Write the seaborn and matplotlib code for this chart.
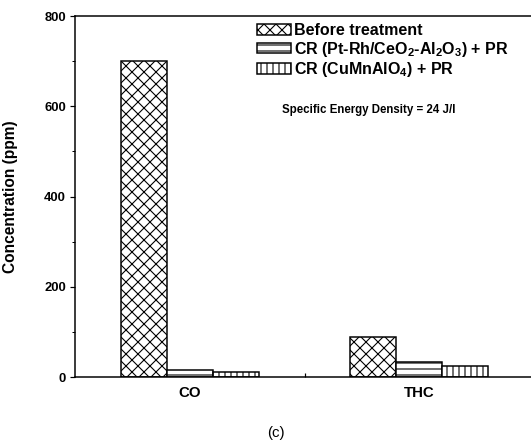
import numpy as np
import pandas as pd
import matplotlib
matplotlib.use("Agg")
import matplotlib.pyplot as plt
import seaborn as sns

categories = ["CO", "THC"]
series_names = ["Before treatment",
                r"CR (Pt-Rh/CeO$_2$-Al$_2$O$_3$) + PR",
                r"CR (CuMnAlO$_4$) + PR"]
before_vals = [700, 88]
pt_vals = [16, 33]
cumn_vals = [11, 24]
y_ticks = [0, 200, 400, 600, 800]

sns.set_theme(style="ticks")
plt.rcParams["font.family"] = ["Liberation Sans", "DejaVu Sans"]
plt.rcParams["font.weight"] = "bold"
plt.rcParams["text.color"] = "black"
plt.rcParams["axes.labelcolor"] = "black"
plt.rcParams["xtick.color"] = "black"
plt.rcParams["ytick.color"] = "black"
plt.rcParams["axes.edgecolor"] = "black"
plt.rcParams["mathtext.fontset"] = "custom"
plt.rcParams["mathtext.rm"] = "Liberation Sans:bold"
plt.rcParams["mathtext.it"] = "Liberation Sans:bold"
plt.rcParams["mathtext.bf"] = "Liberation Sans:bold"
plt.rcParams["mathtext.default"] = "rm"
plt.rcParams["hatch.linewidth"] = 1.1
plt.rcParams["hatch.color"] = "black"

df = pd.DataFrame({
    "cat": categories * 3,
    "series": [series_names[0]] * 2 + [series_names[1]] * 2 + [series_names[2]] * 2,
    "val": before_vals + pt_vals + cumn_vals,
})

DPI = 72
fig = plt.figure(figsize=(531 / DPI, 445 / DPI), dpi=DPI)
ax = fig.add_axes([75 / 531, (445 - 377) / 445, 459 / 531, (377 - 16) / 445])

sns.barplot(data=df, x="cat", y="val", hue="series", order=categories,
            hue_order=series_names, width=0.6, gap=0, legend=False,
            palette=["white"] * 3, edgecolor="black",
            linewidth=1.5, ax=ax, err_kws={"linewidth": 0})

hatches = ["xx", "--", "||"]
for cont, h in zip(ax.containers, hatches):
    for p in cont.patches:
        p.set_hatch(h)
        p.set_facecolor("white")
        p.set_edgecolor("black")

ax.set_xlim(-0.5, 1.5)
ax.set_ylim(0, 800)
ax.set_yticks(y_ticks)
ax.set_yticklabels([str(v) for v in y_ticks], fontsize=13, fontweight="bold")
ax.set_yticks([100, 300, 500, 700], minor=True)
ax.tick_params(axis="y", which="major", direction="out", length=5, width=1.2, pad=4)
ax.tick_params(axis="y", which="minor", direction="out", length=3, width=1)
ax.set_xticks([0, 1])
ax.set_xticklabels(categories, fontsize=15, fontweight="bold")
ax.set_xticks([0.5], minor=True)
ax.tick_params(axis="x", which="major", length=0, pad=9)
ax.tick_params(axis="x", which="minor", direction="in", length=4, width=1.2)

for s in ["left", "bottom", "top", "right"]:
    ax.spines[s].set_linewidth(1.5)
    ax.spines[s].set_color("black")

ax.set_xlabel("")
ax.set_ylabel("Concentration (ppm)", fontsize=15.5, fontweight="bold")
ax.yaxis.set_label_coords((18 - 75) / 459, 0.5)

leg = ax.legend(ax.containers, series_names, loc="upper left",
                bbox_to_anchor=(257 / 531, 1 - 23 / 445),
                bbox_transform=fig.transFigure, frameon=False,
                fontsize=16, handlelength=2.1, handleheight=0.62,
                handletextpad=0.2, labelspacing=0.1, borderpad=0,
                borderaxespad=0)
for t in leg.get_texts():
    t.set_fontweight("bold")
    t.set_color("black")

fig.text(282 / 531, 1 - 110 / 445, "Specific Energy Density = 24 J/l",
         fontsize=11.5, fontweight="bold", ha="left", va="center")
fig.text(276 / 531, 1 - 433 / 445, "(c)", fontsize=15, fontweight="normal",
         ha="center", va="center")

fig.savefig("out.png", dpi=DPI)
